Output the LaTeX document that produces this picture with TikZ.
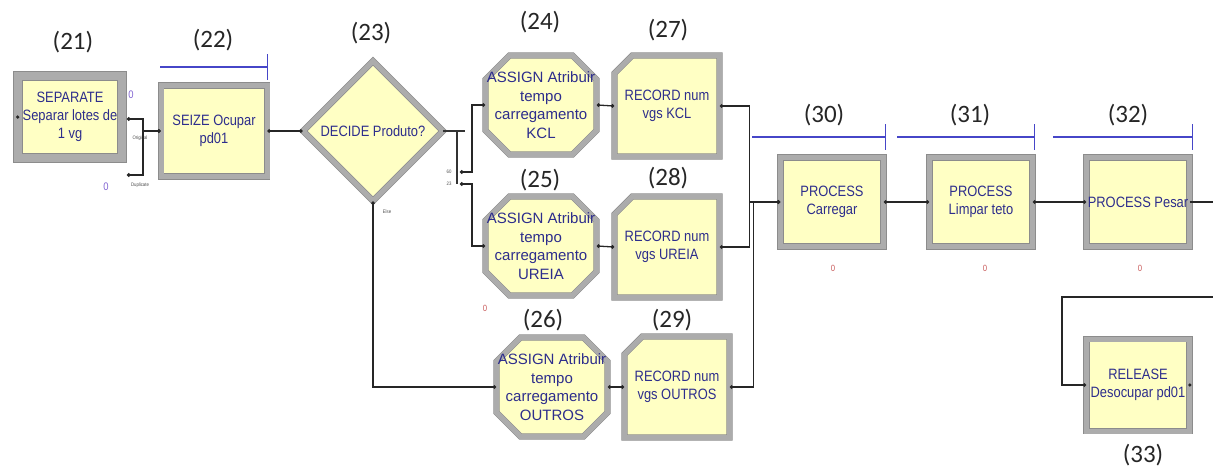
\documentclass[tikz,border=0pt]{standalone}
\usepackage{fontspec}
\setmainfont{Liberation Sans}
\newfontfamily\arenafont[FakeStretch=0.86]{Liberation Sans}
\newfontfamily\labelfont{Carlito}
\usetikzlibrary{shapes.geometric,shapes.misc,arrows.meta,positioning}

\definecolor{boxyellow}{RGB}{255,255,196}
\definecolor{boxtext}{RGB}{45,45,140}
\definecolor{barblue}{RGB}{70,70,200}
\definecolor{cntred}{RGB}{200,90,90}
\definecolor{cntpurple}{RGB}{130,100,210}

\begin{document}
\begin{tikzpicture}[x=1pt, y=-1pt,
    module/.style={rectangle, draw=black!45, double=gray!65, double distance=5pt, line width=0.6pt,
        fill=boxyellow, text=boxtext, font=\arenafont\fontsize{15}{18}\selectfont, align=center,
        inner sep=0pt, minimum width=103pt, minimum height=89pt},
    separatebox/.style={module, double distance=8pt, minimum width=104pt, minimum height=82pt},
    decidebox/.style={module, diamond, aspect=1, minimum width=140pt, minimum height=140pt},
    assignbox/.style={module, chamfered rectangle, chamfered rectangle xsep=12pt, chamfered rectangle ysep=12pt,
        inner xsep=-12pt, inner ysep=-12pt,
        font=\fontsize{15}{18.5}\selectfont, minimum width=111pt, minimum height=99pt},
    recordbox/.style={module, chamfered rectangle, chamfered rectangle corners=north west,
        chamfered rectangle xsep=14pt, chamfered rectangle ysep=14pt, inner xsep=-12pt, inner ysep=-12pt,
        minimum width=105pt, minimum height=101pt},
    numlabel/.style={font=\labelfont\fontsize{25}{28}\selectfont, text=black!85, inner sep=0pt},
    conn/.style={draw=black!85, line width=1.3pt, {Circle[length=3.5pt]}-{Circle[length=3.5pt]}},
    portline/.style={draw=black!80, line width=1.1pt},
    resbar/.style={draw=barblue, line width=1.4pt, -{Bar[width=26pt, line width=1.4pt]}},
    cntr/.style={font=\arenafont\fontsize{9}{10}\selectfont, text=cntred, inner sep=0pt},
    cntp/.style={font=\arenafont\fontsize{11}{12}\selectfont, text=cntpurple, inner sep=0pt},
    portlabel/.style={font=\arenafont\fontsize{5}{6}\selectfont, text=black!70, inner sep=0pt}
]
\useasboundingbox (0,0) rectangle (1213,471);

% Modules
\node[separatebox] (sep) at (70,117) {SEPARATE\\Separar lotes de\\1 vg};
\node[module, minimum width=106pt, minimum height=91pt] (seize) at (214,131) {SEIZE Ocupar\\pd01};
\node[decidebox] (dec) at (373,131) {DECIDE Produto?};

\node[assignbox] (a24) at (541,105) {ASSIGN Atribuir\\tempo\\carregamento\\KCL};
\node[assignbox] (a25) at (541,246) {ASSIGN Atribuir\\tempo\\carregamento\\UREIA};
\node[assignbox] (a26) at (552,387) {ASSIGN Atribuir\\tempo\\carregamento\\OUTROS};

\node[recordbox] (r27) at (667,106) {RECORD num\\vgs KCL};
\node[recordbox] (r28) at (667,247) {RECORD num\\vgs UREIA};
\node[recordbox] (r29) at (677,387) {RECORD num\\vgs OUTROS};

\node[module] (p30) at (832,202) {PROCESS\\Carregar};
\node[module] (p31) at (981,202) {PROCESS\\Limpar teto};
\node[module] (p32) at (1138,202) {PROCESS Pesar};
\node[module, minimum height=92pt] (rel33) at (1138,385) {RELEASE\\Desocupar pd01};

% Numbers
\node[numlabel] (n21) at (73,42) {(21)};
\node[numlabel] (n22) at (213,40) {(22)};
\node[numlabel] (n23) at (371,33) {(23)};
\node[numlabel] (n24) at (540,22) {(24)};
\node[numlabel] (n25) at (540,180) {(25)};
\node[numlabel] (n26) at (543,320) {(26)};
\node[numlabel] (n27) at (668,30) {(27)};
\node[numlabel] (n28) at (668,178) {(28)};
\node[numlabel] (n29) at (672,320) {(29)};
\node[numlabel] (n30) at (824,115) {(30)};
\node[numlabel] (n31) at (970,115) {(31)};
\node[numlabel] (n32) at (1128,115) {(32)};
\node[numlabel] (n33) at (1143,455) {(33)};

% Ports
\coordinate (sepO) at (127,119);
\coordinate (sepD) at (127,175);
\coordinate (dec60) at (460,172);
\coordinate (dec23) at (460,184);
\coordinate (outR) at (1213,202);
\coordinate (inR) at (1213,297);

\draw[portline] (dec.east) -- ++(22,0);
\draw[portline] (457,131) -- (457,184);

\node[portlabel] (lorig) at (140,138) {Original};
\node[portlabel] (ldup) at (140,185) {Duplicate};
\node[portlabel] (l60) at (449,172) {60};
\node[portlabel] (l23) at (449,184) {23};
\node[portlabel] (lelse) at (387,212) {Else};

% Counters
\node[cntp] (c21a) at (131,95) {0};
\node[cntp] (c21b) at (106,187) {0};
\node[cntr] (c26) at (485,308) {0};
\node[cntr] (c30) at (833,268) {0};
\node[cntr] (c31) at (985,268) {0};
\node[cntr] (c32) at (1140,268) {0};

% Connectors
\draw[conn] (sepO) -- ++(16,0) |- (seize.west);
\draw[conn] (sepD) -- ++(16,0) |- (seize.west);
\draw[conn] (seize.east) -- (dec.west);
\draw[conn] (dec60) -- ++(12,0) |- (a24.west);
\draw[conn] (dec23) -- ++(12,0) |- (a25.west);
\draw[conn] (dec.south) |- (a26.west);
\draw[conn] (a24.east) -- (r27.west);
\draw[conn] (a25.east) -- (r28.west);
\draw[conn] (a26.east) -- (r29.west);
\draw[conn] (r27.east) -- ++(30,0) |- (p30.west);
\draw[conn] (r28.east) -- ++(30,0) |- (p30.west);
\draw[conn] (r29.east) -- ++(24,0) |- (p30.west);
\draw[conn] (p30.east) -- (p31.west);
\draw[conn] (p31.east) -- (p32.west);
\draw[conn, -] (p32.east) -- (outR);
\draw[conn, -{Circle[length=3.5pt]}] (inR) -- ++(-151,0) |- (rel33.west);
\fill[black!85] (rel33.east) circle (1.8);
\fill[black!85] (sep.west) circle (1.8);

% Resource bars
\draw[resbar] (160,67) -- (268,67);
\draw[resbar] (752,137) -- (886,137);
\draw[resbar] (897,137) -- (1035,137);
\draw[resbar] (1053,137) -- (1193,137);

\end{tikzpicture}
\end{document}
